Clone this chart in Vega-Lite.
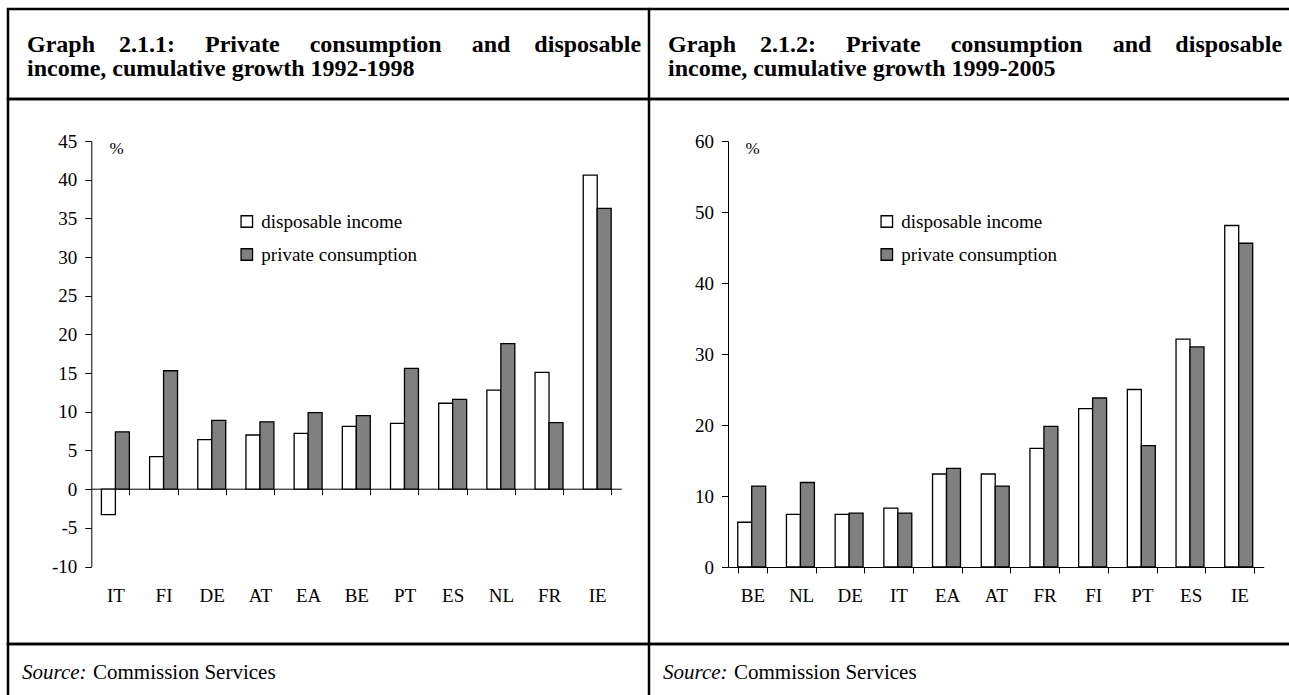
{
  "$schema": "https://vega.github.io/schema/vega-lite/v6.json",
  "padding": {"left": 6, "top": 7, "right": 0, "bottom": 0},
  "background": "white",
  "bounds": "flush",
  "spacing": 0,
  "columns": 2,
  "resolve": {"scale": {"fill": "independent"}, "legend": {"fill": "independent"}},
  "config": {
    "font": "Liberation Serif",
    "view": {"stroke": "black", "strokeWidth": 2.5},
    "text": {"color": "black", "font": "Liberation Serif"},
    "axis": {"labelColor": "black", "domainColor": "black", "tickColor": "black", "labelFont": "Liberation Serif", "titleFont": "Liberation Serif", "titleColor": "black", "grid": false, "domainWidth": 1, "tickWidth": 1},
    "legend": {"labelFont": "Liberation Serif", "labelColor": "black"}
  },
  "datasets": {
    "p1": [
      {"country": "IT", "series": "disposable income", "value": -3.3},
      {"country": "IT", "series": "private consumption", "value": 7.4},
      {"country": "FI", "series": "disposable income", "value": 4.2},
      {"country": "FI", "series": "private consumption", "value": 15.3},
      {"country": "DE", "series": "disposable income", "value": 6.4},
      {"country": "DE", "series": "private consumption", "value": 8.9},
      {"country": "AT", "series": "disposable income", "value": 7.0},
      {"country": "AT", "series": "private consumption", "value": 8.7},
      {"country": "EA", "series": "disposable income", "value": 7.2},
      {"country": "EA", "series": "private consumption", "value": 9.9},
      {"country": "BE", "series": "disposable income", "value": 8.1},
      {"country": "BE", "series": "private consumption", "value": 9.5},
      {"country": "PT", "series": "disposable income", "value": 8.5},
      {"country": "PT", "series": "private consumption", "value": 15.6},
      {"country": "ES", "series": "disposable income", "value": 11.1},
      {"country": "ES", "series": "private consumption", "value": 11.6},
      {"country": "NL", "series": "disposable income", "value": 12.8},
      {"country": "NL", "series": "private consumption", "value": 18.8},
      {"country": "FR", "series": "disposable income", "value": 15.1},
      {"country": "FR", "series": "private consumption", "value": 8.6},
      {"country": "IE", "series": "disposable income", "value": 40.6},
      {"country": "IE", "series": "private consumption", "value": 36.3}
    ],
    "p2": [
      {"country": "BE", "series": "disposable income", "value": 6.3},
      {"country": "BE", "series": "private consumption", "value": 11.4},
      {"country": "NL", "series": "disposable income", "value": 7.4},
      {"country": "NL", "series": "private consumption", "value": 11.9},
      {"country": "DE", "series": "disposable income", "value": 7.4},
      {"country": "DE", "series": "private consumption", "value": 7.6},
      {"country": "IT", "series": "disposable income", "value": 8.3},
      {"country": "IT", "series": "private consumption", "value": 7.6},
      {"country": "EA", "series": "disposable income", "value": 13.1},
      {"country": "EA", "series": "private consumption", "value": 13.9},
      {"country": "AT", "series": "disposable income", "value": 13.1},
      {"country": "AT", "series": "private consumption", "value": 11.4},
      {"country": "FR", "series": "disposable income", "value": 16.7},
      {"country": "FR", "series": "private consumption", "value": 19.8},
      {"country": "FI", "series": "disposable income", "value": 22.3},
      {"country": "FI", "series": "private consumption", "value": 23.8},
      {"country": "PT", "series": "disposable income", "value": 25.0},
      {"country": "PT", "series": "private consumption", "value": 17.1},
      {"country": "ES", "series": "disposable income", "value": 32.1},
      {"country": "ES", "series": "private consumption", "value": 31.0},
      {"country": "IE", "series": "disposable income", "value": 48.1},
      {"country": "IE", "series": "private consumption", "value": 45.6}
    ]
  },
  "concat": [
    {
      "width": 641, "height": 90,
      "view": {"stroke": "black", "strokeWidth": 2.5},
      "data": {"values": [{}]},
      "mark": {"type": "text", "text": ["Graph\u00a0\u00a0\u00a0 2.1.1:\u00a0\u00a0\u00a0\u00a0 Private\u00a0\u00a0\u00a0\u00a0 consumption\u00a0\u00a0\u00a0\u00a0 and\u00a0\u00a0\u00a0 disposable", "income, cumulative growth 1992-1998"], "x": 19, "y": 43, "align": "left", "baseline": "alphabetic", "fontSize": 24, "fontWeight": "bold", "lineHeight": 24, "color": "black"}
    },
    {
      "width": 640, "height": 90,
      "view": {"stroke": "black", "strokeWidth": 2.5, "strokeDash": [640, 90]},
      "data": {"values": [{}]},
      "mark": {"type": "text", "text": ["Graph\u00a0\u00a0\u00a0 2.1.2:\u00a0\u00a0\u00a0\u00a0 Private\u00a0\u00a0\u00a0\u00a0 consumption\u00a0\u00a0\u00a0\u00a0 and\u00a0\u00a0\u00a0 disposable", "income, cumulative growth 1999-2005"], "x": 19, "y": 43, "align": "left", "baseline": "alphabetic", "fontSize": 24, "fontWeight": "bold", "lineHeight": 24, "color": "black"}
    },
    {
      "width": 641, "height": 545,
      "data": {"name": "p1"},
      "mark": {"type": "bar", "stroke": "black", "strokeWidth": 1.3},
      "encoding": {
        "x": {"field": "country", "type": "nominal", "sort": null,
          "scale": {"range": [83.3, 613.3], "paddingInner": 0.42, "paddingOuter": 0.21},
          "axis": {"title": null, "orient": "bottom", "offset": -155.3, "tickBand": "extent", "tickSize": 6, "labelAngle": 0, "labelPadding": 100.8, "labelBaseline": "middle", "labelFontSize": 19}},
        "xOffset": {"field": "series", "type": "nominal", "sort": ["disposable income", "private consumption"]},
        "y": {"field": "value", "type": "quantitative",
          "scale": {"domain": [-10, 45], "range": [467.5, 42], "nice": false, "zero": false},
          "axis": {"title": "%", "titleAngle": 0, "titleX": 17.7, "titleY": 49, "titleAlign": "left", "titleBaseline": "middle", "titleFontSize": 17, "titleFontWeight": "normal", "offset": -83.3, "values": [-10, -5, 0, 5, 10, 15, 20, 25, 30, 35, 40, 45], "labelExpr": "'' + datum.value", "tickSize": 6.5, "labelPadding": 8, "labelFontSize": 19}},
        "y2": {"datum": 0},
        "fill": {"field": "series", "type": "nominal",
          "scale": {"domain": ["disposable income", "private consumption"], "range": ["white", "#808080"]},
          "legend": {"orient": "none", "legendX": 229.3, "legendY": 113, "title": null, "symbolType": "square", "symbolSize": 132, "symbolStrokeColor": "black", "symbolStrokeWidth": 1.3, "symbolOpacity": 1, "labelFontSize": 19, "labelOffset": 5, "rowPadding": 13, "padding": 0, "direction": "vertical"}}
      }
    },
    {
      "width": 640, "height": 545,
      "view": {"stroke": "black", "strokeWidth": 2.5, "strokeDash": [640, 545]},
      "data": {"name": "p2"},
      "mark": {"type": "bar", "stroke": "black", "strokeWidth": 1.3},
      "encoding": {
        "x": {"field": "country", "type": "nominal", "sort": null,
          "scale": {"range": [79, 614.7], "paddingInner": 0.4, "paddingOuter": 0.2},
          "axis": {"title": null, "orient": "bottom", "offset": -77, "tickBand": "extent", "tickSize": 6, "labelAngle": 0, "labelPadding": 22, "labelBaseline": "middle", "labelFontSize": 19}},
        "xOffset": {"field": "series", "type": "nominal", "sort": ["disposable income", "private consumption"]},
        "y": {"field": "value", "type": "quantitative",
          "scale": {"domain": [0, 60], "range": [468, 42], "nice": false, "zero": false},
          "axis": {"title": "%", "titleAngle": 0, "titleX": 17, "titleY": 49, "titleAlign": "left", "titleBaseline": "middle", "titleFontSize": 17, "titleFontWeight": "normal", "offset": -79, "values": [0, 10, 20, 30, 40, 50, 60], "labelExpr": "'' + datum.value", "tickSize": 6.5, "labelPadding": 8, "labelFontSize": 19}},
        "y2": {"datum": 0},
        "fill": {"field": "series", "type": "nominal",
          "scale": {"domain": ["disposable income", "private consumption"], "range": ["white", "#808080"]},
          "legend": {"orient": "none", "legendX": 228.3, "legendY": 113, "title": null, "symbolType": "square", "symbolSize": 132, "symbolStrokeColor": "black", "symbolStrokeWidth": 1.3, "symbolOpacity": 1, "labelFontSize": 19, "labelOffset": 5, "rowPadding": 13, "padding": 0, "direction": "vertical"}}
      }
    },
    {
      "width": 641, "height": 51,
      "view": {"stroke": "black", "strokeWidth": 2.5, "strokeDash": [692, 641, 51]},
      "data": {"values": [{}]},
      "layer": [
        {"mark": {"type": "text", "text": "Source:", "fontStyle": "italic", "x": 14, "y": 35, "align": "left", "baseline": "alphabetic", "fontSize": 21, "color": "black"}},
        {"mark": {"type": "text", "text": "Commission Services", "x": 85, "y": 35, "align": "left", "baseline": "alphabetic", "fontSize": 21, "color": "black"}}
      ]
    },
    {
      "width": 640, "height": 51,
      "view": {"stroke": "black", "strokeWidth": 2.5, "strokeDash": [640, 742]},
      "data": {"values": [{}]},
      "layer": [
        {"mark": {"type": "text", "text": "Source:", "fontStyle": "italic", "x": 14, "y": 35, "align": "left", "baseline": "alphabetic", "fontSize": 21, "color": "black"}},
        {"mark": {"type": "text", "text": "Commission Services", "x": 85, "y": 35, "align": "left", "baseline": "alphabetic", "fontSize": 21, "color": "black"}}
      ]
    }
  ]
}
